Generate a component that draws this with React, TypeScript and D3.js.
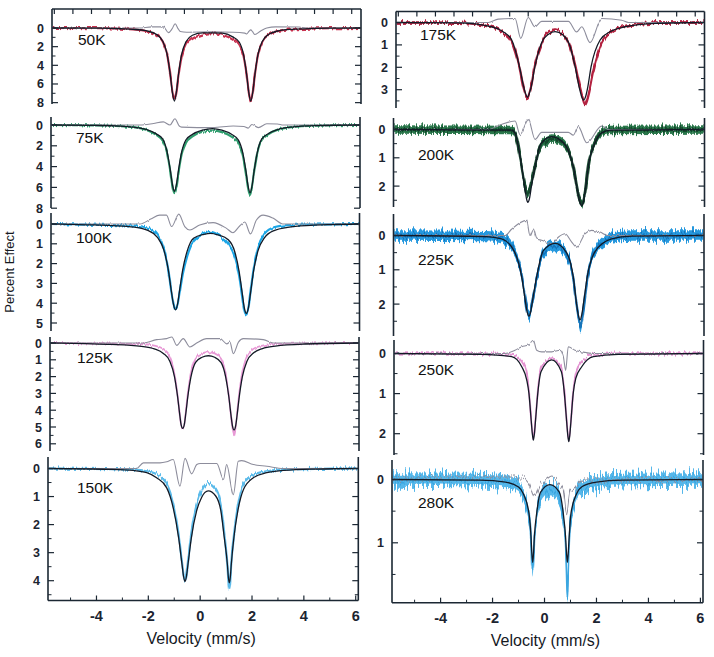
import React from "react";
import * as d3 from "d3";

type P = [number, number];

// ---------- shared axis values ----------
const X_DOMAIN: [number, number] = [-5.87, 6.1];
const xMajorTicks = [-4, -2, 0, 2, 4, 6];
const xMinorTicks = [-5, -3, -1, 1, 3, 5];
const topTicks = [-5.78, -5.06, -4.34, -3.62, -2.9, -2.18, -1.46, -0.74, -0.02, 0.7, 1.42, 2.14, 2.86, 3.58, 4.3, 5.02, 5.74];
const temps = ["50K", "75K", "100K", "125K", "150K", "175K", "200K", "225K", "250K", "280K"];

// ---------- 50K ----------
const fit50: P[] = [[-5.87,0],[-4,0.02],[-3.2,0.08],[-2.73,0.14],[-2.23,0.29],[-1.83,0.67],[-1.58,1.42],[-1.41,2.84],[-1.29,4.97],[-1.21,6.84],[-1.13,7.83],[-1.05,6.85],[-0.97,4.98],[-0.85,2.86],[-0.68,1.47],[-0.43,0.78],[-0.03,0.52],[0.35,0.52],[0.73,0.55],[1.13,0.95],[1.38,1.5],[1.55,2.86],[1.67,4.98],[1.75,6.85],[1.83,7.83],[1.91,6.84],[1.99,4.97],[2.11,2.84],[2.28,1.42],[2.53,0.67],[2.93,0.29],[3.43,0.14],[4.3,0.05],[5,0.02],[6.1,0]];
const data50: P[] = [[-5.87,0],[-4,0.02],[-3.2,0.08],[-2.73,0.15],[-2.23,0.32],[-1.83,0.72],[-1.58,1.45],[-1.41,2.85],[-1.29,4.95],[-1.21,6.7],[-1.13,7.65],[-1.05,6.8],[-0.97,5.1],[-0.85,3.1],[-0.68,1.75],[-0.43,1.15],[-0.03,0.7],[0.35,0.55],[0.73,0.72],[1.13,1.25],[1.38,1.85],[1.55,3.0],[1.67,5.0],[1.75,6.85],[1.83,7.85],[1.91,6.84],[1.99,4.97],[2.11,2.84],[2.28,1.45],[2.53,0.7],[2.93,0.3],[3.43,0.14],[4.3,0.05],[5,0.02],[6.1,0]];
const res50: P[] = [[-5.87,0],[-2.5,0],[-2.0,-0.12],[-1.55,-0.12],[-1.36,0.5],[-1.22,0.1],[-1.1,-0.45],[-0.98,0.1],[-0.9,0.38],[-0.65,0.45],[0.35,0.42],[1.15,0.45],[1.6,0.55],[1.67,0.64],[1.76,0.35],[1.83,0.2],[1.9,0.4],[1.99,0.7],[2.2,0.35],[2.45,0],[2.8,-0.12],[3.7,-0.1],[4.0,0],[6.1,0]];

// ---------- 75K ----------
const fit75: P[] = [[-5.87,0],[-4.2,0.04],[-3.2,0.1],[-2.69,0.2],[-2.19,0.42],[-1.79,0.85],[-1.54,1.35],[-1.37,2.6],[-1.25,4.3],[-1.17,5.68],[-1.09,6.37],[-1.01,5.7],[-0.93,4.32],[-0.81,2.62],[-0.64,1.42],[-0.39,0.9],[0,0.5],[0.38,0.35],[0.75,0.5],[1.14,0.92],[1.39,1.45],[1.56,2.68],[1.68,4.4],[1.76,5.8],[1.84,6.52],[1.92,5.82],[2,4.4],[2.12,2.66],[2.29,1.36],[2.54,0.84],[2.94,0.42],[3.44,0.2],[4.4,0.06],[6.1,0]];
const data75: P[] = [[-5.87,0],[-4.2,0.04],[-3.2,0.1],[-2.69,0.2],[-2.19,0.45],[-1.79,0.95],[-1.54,1.5],[-1.37,2.7],[-1.25,4.4],[-1.17,5.8],[-1.09,6.55],[-1.01,5.9],[-0.93,4.6],[-0.81,2.9],[-0.64,1.7],[-0.39,1.1],[0,0.65],[0.38,0.55],[0.75,0.68],[1.14,1.15],[1.39,1.75],[1.56,2.9],[1.68,4.6],[1.76,6.0],[1.84,6.72],[1.92,5.9],[2,4.45],[2.12,2.7],[2.29,1.45],[2.54,0.9],[2.94,0.42],[3.44,0.2],[4.4,0.06],[6.1,0]];
const res75: P[] = [[-5.87,0],[-2.42,0],[-1.9,-0.15],[-1.52,-0.3],[-1.26,0],[-1.07,-0.6],[-0.9,0.1],[-0.81,0.2],[0.4,0.25],[1.19,0.1],[1.6,0.15],[1.77,0.3],[1.91,-0.05],[2.16,0.25],[2.49,-0.12],[2.9,-0.1],[3.13,0],[6.1,0]];

// ---------- 100K ----------
const fit100: P[] = [[-5.87,0],[-4.5,0.04],[-3.5,0.08],[-2.64,0.16],[-2.14,0.31],[-1.74,0.67],[-1.49,1.32],[-1.32,2.3],[-1.2,3.39],[-1.12,4.05],[-1.04,4.34],[-0.96,4.05],[-0.88,3.35],[-0.76,2.32],[-0.59,1.38],[-0.34,0.72],[0.06,0.52],[0.335,0.47],[0.61,0.55],[1.01,0.8],[1.26,1.4],[1.43,2.4],[1.55,3.5],[1.63,4.23],[1.71,4.51],[1.79,4.23],[1.87,3.5],[1.99,2.38],[2.16,1.36],[2.41,0.7],[2.81,0.32],[3.31,0.17],[4.2,0.07],[5,0.03],[6.1,0]];
const data100: P[] = [[-5.87,0],[-4.5,0.03],[-3.5,0.05],[-2.64,0.08],[-2.14,0.18],[-1.74,0.55],[-1.49,1.25],[-1.32,2.3],[-1.2,3.4],[-1.12,4.0],[-1.04,4.3],[-0.96,4.1],[-0.88,3.5],[-0.76,2.55],[-0.59,1.65],[-0.34,0.88],[0.06,0.5],[0.335,0.4],[0.61,0.55],[1.01,1.0],[1.26,1.65],[1.43,2.62],[1.55,3.65],[1.63,4.35],[1.71,4.58],[1.79,4.25],[1.87,3.45],[1.99,2.3],[2.16,1.2],[2.41,0.5],[2.81,0.15],[3.31,0.06],[4.2,0.03],[5,0.02],[6.1,0]];
const res100: P[] = [[-5.87,0],[-2.42,0],[-2.0,-0.25],[-1.65,-0.45],[-1.39,-0.45],[-1.19,0.13],[-0.91,-0.5],[-0.68,0.13],[-0.48,0.3],[-0.1,0.05],[0.42,-0.07],[0.94,0.22],[1.19,0.44],[1.45,0.1],[1.65,-0.1],[1.87,0.5],[2.1,-0.2],[2.36,-0.45],[2.74,-0.3],[3.13,0],[6.1,0]];

// ---------- 125K ----------
const fit125: P[] = [[-5.87,0],[-4.5,0.04],[-3.5,0.08],[-2.33,0.2],[-1.83,0.35],[-1.48,0.62],[-1.23,1.08],[-1.05,1.98],[-0.93,3.16],[-0.85,4.19],[-0.79,4.87],[-0.73,5.08],[-0.67,4.87],[-0.61,4.21],[-0.53,3.18],[-0.41,2.02],[-0.23,1.15],[0.02,0.85],[0.265,0.76],[0.51,0.85],[0.76,1.17],[0.94,2.06],[1.06,3.23],[1.14,4.28],[1.2,4.95],[1.26,5.18],[1.32,4.95],[1.38,4.27],[1.46,3.22],[1.58,2.02],[1.76,1.08],[2.01,0.6],[2.36,0.33],[2.86,0.18],[4,0.06],[6.1,0]];
const data125: P[] = [[-5.87,0],[-4.5,0.02],[-3.5,0.03],[-2.33,0.06],[-1.83,0.15],[-1.48,0.35],[-1.23,0.8],[-1.05,1.8],[-0.93,3.1],[-0.85,4.15],[-0.79,4.85],[-0.73,5.05],[-0.67,4.85],[-0.61,4.1],[-0.53,3.0],[-0.41,1.8],[-0.23,0.9],[0.02,0.62],[0.265,0.55],[0.51,0.62],[0.76,0.95],[0.94,1.9],[1.06,3.2],[1.14,4.3],[1.2,5.05],[1.26,5.5],[1.32,5.0],[1.38,4.2],[1.46,3.0],[1.58,1.8],[1.76,0.8],[2.01,0.35],[2.36,0.15],[2.86,0.06],[4,0.02],[6.1,0]];
const res125: P[] = [[-5.87,0],[-2.25,0],[-1.74,-0.2],[-1.35,-0.26],[-1.15,-0.36],[-0.96,0.14],[-0.71,-0.26],[-0.45,0.24],[-0.19,0.0],[0.2,-0.26],[0.72,-0.26],[0.98,0.05],[1.1,-0.05],[1.23,0.63],[1.43,-0.05],[1.62,-0.26],[2.39,-0.2],[2.78,0],[6.1,0]];

// ---------- 150K ----------
const fit150: P[] = [[-5.87,0],[-3.5,0.03],[-2.58,0.07],[-2.06,0.15],[-1.68,0.33],[-1.29,0.69],[-1.04,1.4],[-0.83,2.47],[-0.7,3.42],[-0.64,3.85],[-0.585,4.03],[-0.53,3.85],[-0.47,3.42],[-0.34,2.47],[-0.14,1.52],[0.05,1.04],[0.31,0.8],[0.6,0.98],[0.8,1.52],[0.93,2.47],[1.05,3.42],[1.085,3.85],[1.125,4.08],[1.165,3.85],[1.2,3.42],[1.3,2.47],[1.45,1.52],[1.67,0.75],[2.05,0.33],[2.57,0.15],[3.22,0.07],[4.5,0.02],[6.1,0]];
const data150: P[] = [[-5.87,0],[-3.5,0.02],[-2.58,0.04],[-2.06,0.1],[-1.68,0.2],[-1.29,0.55],[-1.04,1.25],[-0.83,2.35],[-0.7,3.35],[-0.64,3.8],[-0.585,4.0],[-0.53,3.8],[-0.47,3.3],[-0.34,2.3],[-0.14,1.3],[0.05,0.8],[0.31,0.52],[0.6,0.72],[0.8,1.3],[0.93,2.3],[1.05,3.45],[1.09,4.0],[1.13,4.33],[1.17,3.95],[1.2,3.42],[1.3,2.4],[1.45,1.35],[1.67,0.55],[2.05,0.22],[2.57,0.1],[3.22,0.04],[4.5,0.01],[6.1,0]];
const res150: P[] = [[-5.87,0],[-2.45,0],[-2.19,-0.2],[-1.55,-0.2],[-1.29,-0.24],[-1.04,-0.32],[-0.78,0.63],[-0.585,-0.36],[-0.33,0.19],[-0.13,-0.14],[0,-0.18],[0.64,-0.18],[0.9,0.39],[1.02,-0.14],[1.28,0.93],[1.47,-0.26],[1.6,-0.28],[2.05,-0.14],[2.57,-0.08],[3.21,0],[6.1,0]];

// ---------- 175K ----------
const fit175: P[] = [[-5.87,0],[-3.5,0.02],[-2.16,0.19],[-1.7,0.42],[-1.38,0.78],[-1.08,1.97],[-0.92,2.85],[-0.84,3.18],[-0.77,3.34],[-0.7,3.18],[-0.62,2.85],[-0.48,1.97],[-0.22,0.9],[0.05,0.52],[0.3,0.41],[0.6,0.55],[0.85,0.95],[1.08,1.97],[1.25,2.95],[1.33,3.3],[1.41,3.46],[1.49,3.3],[1.56,2.95],[1.7,1.97],[2.05,0.78],[2.45,0.4],[3.02,0.19],[4.2,0.04],[6.1,0]];
const data175: P[] = [[-5.87,0],[-3.5,0.01],[-2.16,0.2],[-1.7,0.45],[-1.38,0.85],[-1.08,2.0],[-0.92,2.9],[-0.84,3.2],[-0.77,3.36],[-0.7,3.15],[-0.62,2.8],[-0.48,1.9],[-0.22,0.95],[0.05,0.45],[0.3,0.36],[0.6,0.5],[0.85,0.95],[1.08,1.9],[1.25,2.8],[1.38,3.4],[1.46,3.64],[1.54,3.45],[1.62,3.1],[1.78,2.2],[2.05,1.1],[2.45,0.45],[3.02,0.15],[4.2,0.0],[6.1,0]];
const res175: P[] = [[-5.87,0],[-2.29,0],[-1.9,-0.15],[-1.25,-0.18],[-1.03,0.71],[-0.74,-0.22],[-0.48,0.19],[-0.22,-0.05],[0.82,-0.05],[1.14,0.42],[1.34,0.19],[1.66,0.9],[2.11,-0.18],[2.89,-0.1],[3.15,0],[6.1,0]];

// ---------- 200K ----------
const fit200: P[] = [[-5.87,0],[-1.32,0.02],[-1.19,0.12],[-1.07,0.59],[-0.94,1.29],[-0.81,2.1],[-0.75,2.45],[-0.7,2.57],[-0.64,2.45],[-0.56,2.0],[-0.42,1.31],[-0.2,0.5],[0.22,0.25],[0.7,0.5],[0.9,0.85],[1.05,1.31],[1.2,2.1],[1.3,2.55],[1.37,2.7],[1.44,2.55],[1.52,2.1],[1.63,1.29],[1.89,0.47],[2.14,0.12],[2.5,0.02],[6.1,0]];
const data200: P[] = [[-5.87,0],[-1.32,0.02],[-1.19,0.15],[-1.07,0.6],[-0.94,1.3],[-0.81,1.95],[-0.75,2.2],[-0.7,2.25],[-0.64,2.15],[-0.56,1.85],[-0.42,1.25],[-0.2,0.55],[0.22,0.32],[0.7,0.5],[0.9,0.85],[1.05,1.35],[1.2,2.1],[1.3,2.5],[1.37,2.63],[1.44,2.5],[1.52,2.1],[1.63,1.3],[1.89,0.45],[2.14,0.1],[2.5,0.02],[6.1,0]];
const res200: P[] = [[-5.87,0],[-2.22,0],[-1.8,-0.15],[-1.19,-0.3],[-1.0,0.18],[-0.68,-0.35],[-0.42,0.35],[-0.17,0.1],[0.86,0.1],[1.05,0.2],[1.24,-0.1],[1.57,0.47],[2.14,-0.12],[2.4,0],[6.1,0]];

// ---------- 225K ----------
const fit225: P[] = [[-5.87,0],[-2.3,0.03],[-1.7,0.1],[-1.21,0.47],[-0.93,1.2],[-0.79,1.9],[-0.72,2.22],[-0.65,2.35],[-0.58,2.22],[-0.51,1.9],[-0.35,1.2],[-0.1,0.45],[0.36,0.23],[0.8,0.5],[1.06,1.2],[1.18,1.95],[1.25,2.3],[1.32,2.46],[1.39,2.3],[1.46,1.95],[1.6,1.2],[1.9,0.47],[2.54,0.1],[3.3,0.02],[6.1,0]];
const data225: P[] = [[-5.87,0],[-2.3,0.02],[-1.7,0.08],[-1.21,0.45],[-0.93,1.15],[-0.79,1.85],[-0.72,2.2],[-0.65,2.32],[-0.58,2.2],[-0.51,1.9],[-0.35,1.25],[-0.1,0.5],[0.36,0.28],[0.8,0.55],[1.06,1.25],[1.18,2.0],[1.27,2.45],[1.34,2.68],[1.41,2.4],[1.48,2.0],[1.6,1.25],[1.9,0.45],[2.54,0.06],[3.3,0],[6.1,0]];
const res225: P[] = [[-5.87,0],[-1.57,0],[-1.31,-0.19],[-0.74,-0.44],[-0.61,0],[-0.48,-0.19],[-0.35,0.1],[-0.16,0.14],[0.23,0.24],[0.48,0.05],[0.74,-0.05],[1.0,0.19],[1.19,0.34],[1.51,-0.05],[1.77,-0.15],[2.09,-0.1],[2.4,0],[6.1,0]];

// ---------- 250K ----------
const fit250: P[] = [[-5.87,0],[-2.5,0.02],[-1.32,0.08],[-0.93,0.33],[-0.74,0.65],[-0.65,1.0],[-0.56,1.7],[-0.52,2.0],[-0.48,2.16],[-0.44,2.0],[-0.4,1.7],[-0.31,1.0],[-0.18,0.45],[0.23,0.16],[0.6,0.45],[0.72,1.0],[0.81,1.72],[0.85,2.03],[0.89,2.2],[0.93,2.03],[0.97,1.72],[1.06,1.0],[1.16,0.62],[1.39,0.33],[1.84,0.08],[2.8,0.02],[6.1,0]];
const data250: P[] = [[-5.87,0],[-2.5,0],[-1.32,0.03],[-0.93,0.2],[-0.74,0.5],[-0.65,0.95],[-0.56,1.68],[-0.48,2.12],[-0.4,1.68],[-0.31,0.95],[-0.18,0.35],[0.23,0.12],[0.6,0.35],[0.72,0.95],[0.81,1.7],[0.89,2.15],[0.97,1.7],[1.06,0.95],[1.16,0.5],[1.39,0.2],[1.84,0.03],[2.8,0],[6.1,0]];
const res250: P[] = [[-5.87,0],[-1.58,0],[-1.19,-0.08],[-0.93,-0.17],[-0.68,-0.21],[-0.48,-0.33],[-0.35,-0.08],[-0.16,-0.04],[0.23,-0.04],[0.55,-0.08],[0.68,0.08],[0.77,0.42],[0.87,-0.17],[1.13,-0.08],[1.39,-0.04],[1.9,0],[6.1,0]];

// ---------- 280K ----------
const fit280: P[] = [[-5.87,0],[-2.5,0.01],[-1.5,0.04],[-1.0,0.12],[-0.82,0.22],[-0.6,0.53],[-0.52,0.9],[-0.49,1.15],[-0.455,1.31],[-0.42,1.15],[-0.39,0.9],[-0.3,0.53],[-0.15,0.2],[0.21,0.08],[0.57,0.2],[0.72,0.53],[0.81,0.9],[0.845,1.15],[0.88,1.31],[0.915,1.15],[0.95,0.9],[1.02,0.53],[1.24,0.22],[1.45,0.11],[2.0,0.04],[3.0,0.01],[6.1,0]];
const data280: P[] = [[-5.87,0],[-2.5,0.01],[-1.5,0.04],[-1.0,0.12],[-0.82,0.24],[-0.6,0.58],[-0.52,0.98],[-0.49,1.25],[-0.455,1.42],[-0.42,1.22],[-0.39,0.95],[-0.3,0.6],[-0.15,0.28],[0.21,0.15],[0.57,0.28],[0.72,0.62],[0.81,1.05],[0.85,1.5],[0.88,1.88],[0.91,1.5],[0.95,1.0],[1.02,0.6],[1.24,0.25],[1.45,0.12],[2.0,0.04],[3.0,0.01],[6.1,0]];
const res280: P[] = [[-5.87,0],[-0.88,-0.04],[-0.62,0.04],[-0.37,0.27],[-0.17,0.09],[0.08,0.01],[0.28,-0.04],[0.53,0.06],[0.72,0.17],[0.85,0.54],[0.98,0.2],[1.17,0.14],[1.43,0.01],[6.1,0]];

// ---------- y tick values ----------
const yMajor50 = [0, 2, 4, 6, 8];
const yMinor50 = [1, 3, 5, 7];
const yMajor100 = [0, 1, 2, 3, 4, 5];
const yMinor100 = [0.5, 1.5, 2.5, 3.5, 4.5];
const yMajor125 = [0, 1, 2, 3, 4, 5, 6];
const yMinor125 = [0.5, 1.5, 2.5, 3.5, 4.5, 5.5];
const yMajor150 = [0, 1, 2, 3, 4];
const yMinor150 = [0.5, 1.5, 2.5, 3.5, 4.5];
const yMajor175 = [0, 1, 2, 3];
const yMinor175 = [0.5, 1.5, 2.5, 3.5];
const yMajor2 = [0, 1, 2];
const yMinor2 = [0.5, 1.5, 2.5];
const yMajor280 = [0, 1];
const yMinor280 = [0.5, 1.5];

// ---------- layout & style (kept apart from the data) ----------
interface PanelCfg {
  name: string; fit: P[]; data: P[]; res: P[];
  color: string; center?: string; band: number; dataWidth: number;
  jitter: number; resJitter: number;
  major: number[]; minor: number[];
  L: number; R: number; top: number; bottom: number; y0: number; unit: number;
  lx: number; ly: number; topAxis?: boolean; bottomAxis?: boolean;
}

const panels: PanelCfg[] = [
  { name: temps[0], fit: fit50, data: data50, res: res50, color: "#c8304f", band: 0, dataWidth: 2.2, jitter: 5, resJitter: 2, major: yMajor50, minor: yMinor50, L: 52, R: 361, top: 9, bottom: 104, y0: 28, unit: 9.33, lx: 78, ly: 45, topAxis: true },
  { name: temps[1], fit: fit75, data: data75, res: res75, color: "#2f9e6e", band: 0, dataWidth: 2.2, jitter: 5, resJitter: 2, major: yMajor50, minor: yMinor50, L: 51, R: 360, top: 117, bottom: 208, y0: 125, unit: 10.4, lx: 76, ly: 143 },
  { name: temps[2], fit: fit100, data: data100, res: res100, color: "#1ea6e6", band: 0, dataWidth: 2.2, jitter: 5, resJitter: 2, major: yMajor100, minor: yMinor100, L: 51, R: 359.5, top: 213, bottom: 331, y0: 224, unit: 19.8, lx: 76, ly: 243 },
  { name: temps[3], fit: fit125, data: data125, res: res125, color: "#e89ad6", band: 0, dataWidth: 1.8, jitter: 5, resJitter: 2, major: yMajor125, minor: yMinor125, L: 50, R: 359, top: 337, bottom: 451, y0: 343, unit: 16.8, lx: 77, ly: 363 },
  { name: temps[4], fit: fit150, data: data150, res: res150, color: "#5cbbea", band: 0.03, dataWidth: 2.2, jitter: 7, resJitter: 2, major: yMajor150, minor: yMinor150, L: 48, R: 358.3, top: 457, bottom: 600.5, y0: 468.5, unit: 28.05, lx: 77, ly: 493, bottomAxis: true },
  { name: temps[5], fit: fit175, data: data175, res: res175, color: "#b3213f", band: 0.04, dataWidth: 2.4, jitter: 7, resJitter: 2, major: yMajor175, minor: yMinor175, L: 396, R: 704.5, top: 11.5, bottom: 108, y0: 22.5, unit: 22.4, lx: 420, ly: 40, topAxis: true },
  { name: temps[6], fit: fit200, data: data200, res: res200, color: "#2a774b", center: "#184a2e", band: 0.15, dataWidth: 3, jitter: 10, resJitter: 3, major: yMajor2, minor: yMinor2, L: 393.5, R: 704.5, top: 118, bottom: 207, y0: 129.5, unit: 28.3, lx: 418, ly: 160 },
  { name: temps[7], fit: fit225, data: data225, res: res225, color: "#2598de", center: "#1573b8", band: 0.15, dataWidth: 2.2, jitter: 14, resJitter: 3, major: yMajor2, minor: yMinor2, L: 393.5, R: 704, top: 214, bottom: 336, y0: 235.5, unit: 34.3, lx: 418, ly: 265 },
  { name: temps[8], fit: fit250, data: data250, res: res250, color: "#e494d2", band: 0.02, dataWidth: 1.8, jitter: 7, resJitter: 3, major: yMajor2, minor: yMinor2, L: 394, R: 703.5, top: 340, bottom: 455, y0: 353.5, unit: 40.1, lx: 418, ly: 375 },
  { name: temps[9], fit: fit280, data: data280, res: res280, color: "#55b7ea", center: "#3aa6e0", band: 0.1, dataWidth: 1.8, jitter: 26, resJitter: 14, major: yMajor280, minor: yMinor280, L: 392, R: 703, top: 460, bottom: 602.7, y0: 479.5, unit: 63.3, lx: 418, ly: 508, bottomAxis: true },
];

const AXIS = "#1b2733";
const FONT = "'Liberation Sans', Arial, Helvetica, sans-serif";

// vertical-only jitter: R channel fixed at 0.5 (no x shift), G channel noise drives y shift
function JitterFilter({ id, seed, scale, box }: { id: string; seed: number; scale: number; box: number[] }) {
  return (
    <filter id={id} filterUnits="userSpaceOnUse" x={box[0]} y={box[1]} width={box[2]} height={box[3]}>
      <feTurbulence type="fractalNoise" baseFrequency="0.55 0.015" numOctaves={2} seed={seed} result="n" />
      <feColorMatrix
        in="n"
        type="matrix"
        values="0 0 0 0 0.5  0 1 0 0 0  0 0 0 0 0  0 0 0 0 1"
        result="m"
      />
      <feDisplacementMap in="SourceGraphic" in2="m" scale={scale} xChannelSelector="R" yChannelSelector="G" />
    </filter>
  );
}

function Panel({ p, idx }: { p: PanelCfg; idx: number }) {
  const x = d3.scaleLinear().domain(X_DOMAIN).range([p.L, p.R]);
  const y = d3
    .scaleLinear()
    .domain([(p.top - p.y0) / p.unit, (p.bottom - p.y0) / p.unit])
    .range([p.top, p.bottom]);
  const line = d3
    .line<P>()
    .x((d) => x(d[0]))
    .y((d) => y(d[1]))
    .curve(d3.curveMonotoneX);
  const area = d3
    .area<P>()
    .x((d) => x(d[0]))
    .y0((d) => y(d[1] - p.band))
    .y1((d) => y(d[1] + p.band))
    .curve(d3.curveMonotoneX);
  const innerArea = d3
    .area<P>()
    .x((d) => x(d[0]))
    .y0((d) => y(d[1] - p.band * 0.6))
    .y1((d) => y(d[1] + p.band * 0.6))
    .curve(d3.curveMonotoneX);
  const clipId = `clip-${idx}`;
  const jitId = `jit-${idx}`;
  const resJitId = `rjit-${idx}`;
  const majorLen = 6;
  const minorLen = 3.5;
  const box = [p.L - 10, p.top - 30, p.R - p.L + 20, p.bottom - p.top + 60];
  return (
    <g>
      <defs>
        <clipPath id={clipId}>
          <rect x={p.L + 0.8} y={p.top - 2} width={p.R - p.L - 1.6} height={p.bottom - p.top + 4} />
        </clipPath>
        <JitterFilter id={jitId} seed={idx * 7 + 3} scale={p.jitter} box={box} />
        <JitterFilter id={resJitId} seed={idx * 5 + 11} scale={p.resJitter} box={box} />
      </defs>
      <g clipPath={`url(#${clipId})`}>
        {p.band > 0.05 && <path d={innerArea(p.data) || ""} fill={p.color} stroke="none" />}
        <g filter={`url(#${jitId})`}>
          {p.band > 0 && <path d={area(p.data) || ""} fill={p.color} stroke="none" />}
          <path
            d={line(p.data) || ""}
            fill="none"
            stroke={p.center || p.color}
            strokeWidth={p.dataWidth}
            strokeLinejoin="round"
          />
        </g>
        <path
          d={line(p.res) || ""}
          fill="none"
          stroke="#8d8d9c"
          strokeWidth={1.1}
          filter={`url(#${resJitId})`}
        />
        <path d={line(p.fit) || ""} fill="none" stroke="#131a26" strokeWidth={1.3} />
      </g>
      {/* side axes */}
      <line x1={p.L} x2={p.L} y1={p.top} y2={p.bottom} stroke={AXIS} strokeWidth={1.6} />
      <line x1={p.R} x2={p.R} y1={p.top} y2={p.bottom} stroke={AXIS} strokeWidth={1.6} />
      {p.major.map((v) => (
        <g key={"M" + v}>
          <line x1={p.L} x2={p.L + majorLen} y1={y(v)} y2={y(v)} stroke={AXIS} strokeWidth={1.2} />
          <line x1={p.R} x2={p.R - majorLen} y1={y(v)} y2={y(v)} stroke={AXIS} strokeWidth={1.2} />
          <text
            x={p.L - 8}
            y={y(v)}
            dy="0.36em"
            textAnchor="end"
            fontSize={12.5}
            fontWeight="bold"
            fontFamily={FONT}
            fill="#1c2430"
          >
            {v}
          </text>
        </g>
      ))}
      {p.minor.map((v) => (
        <g key={"m" + v}>
          <line x1={p.L} x2={p.L + minorLen} y1={y(v)} y2={y(v)} stroke={AXIS} strokeWidth={1} />
          <line x1={p.R} x2={p.R - minorLen} y1={y(v)} y2={y(v)} stroke={AXIS} strokeWidth={1} />
        </g>
      ))}
      {p.topAxis && (
        <g>
          <line x1={p.L} x2={p.R} y1={p.top} y2={p.top} stroke={AXIS} strokeWidth={1.6} />
          {topTicks.map((v) => (
            <line key={v} x1={x(v)} x2={x(v)} y1={p.top} y2={p.top + 5} stroke={AXIS} strokeWidth={1.2} />
          ))}
        </g>
      )}
      {p.bottomAxis && (
        <g>
          <line x1={p.L} x2={p.R} y1={p.bottom} y2={p.bottom} stroke={AXIS} strokeWidth={1.6} />
          {xMajorTicks.map((v) => (
            <g key={v}>
              <line x1={x(v)} x2={x(v)} y1={p.bottom} y2={p.bottom - 5} stroke={AXIS} strokeWidth={1.2} />
              <text
                x={x(v)}
                y={p.bottom + 20}
                textAnchor="middle"
                fontSize={14.5}
                fontWeight="bold"
                fontFamily={FONT}
                fill="#1c2430"
              >
                {v}
              </text>
            </g>
          ))}
          {xMinorTicks.map((v) => (
            <line key={v} x1={x(v)} x2={x(v)} y1={p.bottom} y2={p.bottom - 3} stroke={AXIS} strokeWidth={1} />
          ))}
          <text
            x={x(0) + 1}
            y={p.bottom + 43}
            textAnchor="middle"
            fontSize={16}
            fontFamily={FONT}
            fill="#15191f"
          >
            Velocity (mm/s)
          </text>
        </g>
      )}
      <text x={p.lx} y={p.ly} fontSize={15.5} fontFamily={FONT} fill="#111">
        {p.name}
      </text>
    </g>
  );
}

export default function App() {
  return (
    <svg
      width={714}
      height={657}
      viewBox="0 0 714 657"
      style={{ position: "absolute", left: 0, top: 0, background: "#ffffff" }}
    >
      <rect x={0} y={0} width={714} height={657} fill="#ffffff" />
      {panels.map((p, i) => (
        <Panel key={p.name} p={p} idx={i} />
      ))}
      <text
        transform="translate(14,272) rotate(-90)"
        textAnchor="middle"
        fontSize={13}
        fontFamily={FONT}
        fill="#15191f"
      >
        Percent Effect
      </text>
    </svg>
  );
}
